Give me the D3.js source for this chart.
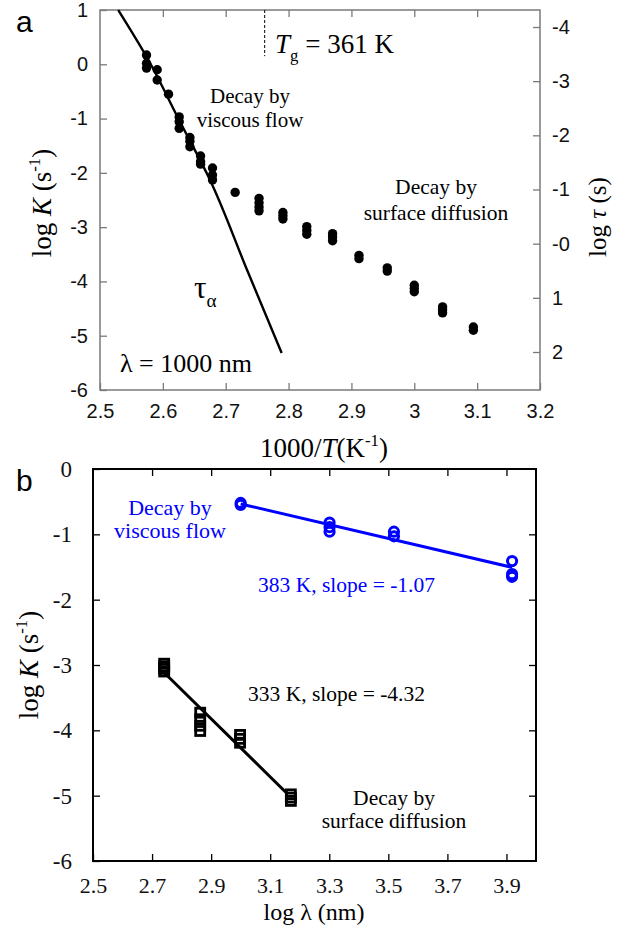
<!DOCTYPE html>
<html>
<head>
<meta charset="utf-8">
<script src="https://cdn.jsdelivr.net/npm/d3@7"></script>
<style>
  body { margin: 0; background: #fff; }
  svg { display: block; }
</style>
</head>
<body>
<div id="chart"></div>
<script>
// ---- panel a : log K vs 1000/T (lambda = 1000 nm) ----
var invT = [2.574, 2.591, 2.609, 2.626, 2.643, 2.660, 2.679, 2.715, 2.753, 2.791,
            2.829, 2.870, 2.912, 2.957, 3.000, 3.045, 3.094];
var logKa = [[0.17, 0.02, -0.07], [-0.10, -0.29], [-0.55], [-0.97, -1.06, -1.18],
             [-1.35, -1.42, -1.52], [-1.69, -1.79, -1.84], [-1.91, -2.04, -2.13], [-2.36],
             [-2.47, -2.55, -2.63, -2.70], [-2.73, -2.79, -2.85], [-2.99, -3.06, -3.13],
             [-3.12, -3.18, -3.25], [-3.52, -3.58], [-3.75, -3.81], [-4.07, -4.13, -4.19],
             [-4.47, -4.52, -4.58], [-4.84, -4.90]];
// tau_alpha curve
var tauX = [2.529, 2.575, 2.626, 2.675, 2.734, 2.789];
var tauLogK = [1.0, 0.12, -1.03, -2.13, -3.79, -5.32];
var tgInvT = 2.762;
var xTicksA = [2.5, 2.6, 2.7, 2.8, 2.9, 3.0, 3.1, 3.2];
var yTicksA = [1, 0, -1, -2, -3, -4, -5, -6];
var tauTicks = [-4, -3, -2, -1, 0, 1, 2];

// ---- panel b : log K vs log lambda ----
var lam383 = [3.000, 3.301, 3.519, 3.919];
var logK383 = [[-0.52, -0.55], [-0.82, -0.89, -0.96], [-0.96, -1.03], [-1.41, -1.61, -1.65]];
var fit383X = [3.000, 3.919];
var fit383Y = [-0.535, -1.505];
var lam333 = [2.741, 2.863, 2.998, 3.170];
var logK333 = [[-2.98, -3.02, -3.06, -3.10], [-3.73, -3.83, -3.93, -4.01],
               [-4.07, -4.13, -4.19], [-4.98, -5.03, -5.08]];
var fit333X = [2.744, 3.158];
var fit333Y = [-3.13, -4.97];
var xTicksB = [2.5, 2.7, 2.9, 3.1, 3.3, 3.5, 3.7, 3.9];
var yTicksB = [0, -1, -2, -3, -4, -5, -6];

var width = 634, height = 934;
var sans = '"Liberation Sans", Arial, sans-serif';
var serif = '"Liberation Serif", "Times New Roman", serif';
var blue = '#0000ff';

var svg = d3.select('#chart').append('svg')
  .attr('width', width)
  .attr('height', height);

function fmt(d) { return String(d); }

// rich text: parts = [[text, style]] ; style: i italic, sup, sub
function richText(g, x, y, parts, opts) {
  var t = g.append('text')
    .attr('x', x).attr('y', y)
    .attr('font-family', opts.font)
    .attr('font-size', opts.size)
    .attr('fill', opts.color || '#000')
    .attr('text-anchor', opts.anchor || 'start');
  var shift = 0;
  parts.forEach(function(p) {
    var s = t.append('tspan').text(p[0]);
    var st = p[1] || '';
    if (st.indexOf('i') >= 0) s.attr('font-style', 'italic');
    var want = 0;
    if (st.indexOf('sup') >= 0) want = -0.42 * opts.size;
    if (st.indexOf('sub') >= 0) want = 0.28 * opts.size;
    if (st.indexOf('sup') >= 0 || st.indexOf('sub') >= 0) s.attr('font-size', opts.size * 0.62);
    if (want !== shift) { s.attr('dy', want - shift); shift = want; }
  });
  return t;
}

// ================= panel a =================
var xA = d3.scaleLinear().domain([2.5, 3.2]).range([100, 540]);
var yA = d3.scaleLinear().domain([-6, 1]).range([390, 10]);
var yTau = d3.scaleLinear().domain([-4, 2]).range([27, 352]);
var ga = svg.append('g');
var frameA = '#7a7a7a';

function styleAxis(sel, col, font, size) {
  sel.attr('font-family', font);
  sel.select('.domain').remove();
  sel.selectAll('line').attr('stroke', col).attr('stroke-width', 1.3);
  sel.selectAll('text').attr('font-family', font).attr('font-size', size).attr('fill', '#111');
}

ga.append('g').attr('transform', 'translate(100,0)')
  .call(d3.axisLeft(yA).tickValues(yTicksA).tickFormat(fmt).tickSizeInner(-7).tickSizeOuter(0).tickPadding(12))
  .call(styleAxis, frameA, sans, 20);
ga.append('g').attr('transform', 'translate(0,390)')
  .call(d3.axisBottom(xA).tickValues(xTicksA).tickFormat(fmt).tickSizeInner(-7).tickSizeOuter(0).tickPadding(14))
  .call(styleAxis, frameA, sans, 20);
ga.append('g').attr('transform', 'translate(0,10)')
  .call(d3.axisTop(xA).tickValues(xTicksA.slice(1, -1)).tickFormat('').tickSizeInner(-7).tickSizeOuter(0))
  .call(styleAxis, frameA, sans, 20);
ga.append('g').attr('transform', 'translate(540,0)')
  .call(d3.axisRight(yTau).tickValues(tauTicks).tickFormat(function(d) { return d === 0 ? '-0' : String(d); })
    .tickSizeInner(-7).tickSizeOuter(0).tickPadding(12))
  .call(styleAxis, frameA, sans, 20);

ga.append('rect')
  .attr('x', xA(2.5)).attr('y', yA(1))
  .attr('width', xA(3.2) - xA(2.5)).attr('height', yA(-6) - yA(1))
  .attr('fill', 'none').attr('stroke', frameA).attr('stroke-width', 1.5);

// Tg marker
ga.append('line')
  .attr('x1', xA(tgInvT)).attr('x2', xA(tgInvT))
  .attr('y1', yA(1)).attr('y2', yA(0.15))
  .attr('stroke', '#000').attr('stroke-width', 1).attr('stroke-dasharray', '3,2');

// tau_alpha curve
ga.append('path')
  .datum(d3.zip(tauX, tauLogK))
  .attr('d', d3.line().x(function(d) { return xA(d[0]); }).y(function(d) { return yA(d[1]); })
    .curve(d3.curveMonotoneY))
  .attr('fill', 'none').attr('stroke', '#000').attr('stroke-width', 2.4);

// points
var ptsA = [];
invT.forEach(function(x, i) { logKa[i].forEach(function(v) { ptsA.push([x, v]); }); });
ga.selectAll('circle.pa').data(ptsA).enter().append('circle')
  .attr('class', 'pa')
  .attr('cx', function(d) { return xA(d[0]); })
  .attr('cy', function(d) { return yA(d[1]); })
  .attr('r', 4.7).attr('fill', '#000');

// labels panel a
svg.append('text').attr('x', 16).attr('y', 32).attr('font-family', sans).attr('font-size', 30).text('a');
richText(ga, 275, 53, [['T', 'i'], ['g', 'sub'], [' = 361 K']], { font: serif, size: 27 });
richText(ga, 250, 103, [['Decay by']], { font: serif, size: 21, anchor: 'middle' });
richText(ga, 250, 127, [['viscous flow']], { font: serif, size: 21, anchor: 'middle' });
richText(ga, 436, 194, [['Decay by']], { font: serif, size: 21.5, anchor: 'middle' });
richText(ga, 436, 220, [['surface diffusion']], { font: serif, size: 21.5, anchor: 'middle' });
richText(ga, 194, 298, [['\u03c4'], ['\u03b1', 'sub']], { font: serif, size: 31 });
richText(ga, 120, 372, [['\u03bb = 1000 nm']], { font: serif, size: 26 });
richText(ga, 324, 457, [['1000/'], ['T', 'i'], ['(K'], ['-1', 'sup'], [')']], { font: serif, size: 27, anchor: 'middle' });
richText(ga.append('g').attr('transform', 'translate(51,203) rotate(-90)'), 0, 0,
  [['log '], ['K', 'i'], [' (s'], ['-1', 'sup'], [')']], { font: serif, size: 27, anchor: 'middle' });
richText(ga.append('g').attr('transform', 'translate(606,217) rotate(-90)'), 0, 0,
  [['log '], ['\u03c4', 'i'], [' (s)']], { font: serif, size: 25, anchor: 'middle' });

// ================= panel b =================
var xB = d3.scaleLinear().domain([2.5, 4.0]).range([93, 536]);
var yB = d3.scaleLinear().domain([-6, 0]).range([861, 469]);
var gb = svg.append('g');

gb.append('g').attr('transform', 'translate(93,0)')
  .call(d3.axisLeft(yB).tickValues(yTicksB).tickFormat(fmt).tickSizeInner(-7).tickSizeOuter(0).tickPadding(21))
  .call(styleAxis, '#000', serif, 23);
gb.append('g').attr('transform', 'translate(0,861)')
  .call(d3.axisBottom(xB).tickValues(xTicksB).tickFormat(fmt).tickSizeInner(-7).tickSizeOuter(0).tickPadding(16))
  .call(styleAxis, '#000', serif, 22);
gb.append('g').attr('transform', 'translate(0,469)')
  .call(d3.axisTop(xB).tickValues(xTicksB.slice(1)).tickFormat('').tickSizeInner(-7).tickSizeOuter(0))
  .call(styleAxis, '#000', serif, 23);
gb.append('g').attr('transform', 'translate(536,0)')
  .call(d3.axisRight(yB).tickValues(yTicksB.slice(1, -1)).tickFormat('').tickSizeInner(-7).tickSizeOuter(0))
  .call(styleAxis, '#000', serif, 23);

gb.append('rect')
  .attr('x', xB(2.5)).attr('y', yB(0))
  .attr('width', xB(4.0) - xB(2.5)).attr('height', yB(-6) - yB(0))
  .attr('fill', 'none').attr('stroke', '#000').attr('stroke-width', 2);

var lineB = d3.line().x(function(d) { return xB(d[0]); }).y(function(d) { return yB(d[1]); });

// 383 K series (blue)
gb.append('path').datum(d3.zip(fit383X, fit383Y)).attr('d', lineB)
  .attr('fill', 'none').attr('stroke', blue).attr('stroke-width', 3);
var pts383 = [];
lam383.forEach(function(x, i) { logK383[i].forEach(function(v) { pts383.push([x, v]); }); });
gb.selectAll('circle.b383').data(pts383).enter().append('circle')
  .attr('class', 'b383')
  .attr('cx', function(d) { return xB(d[0]); })
  .attr('cy', function(d) { return yB(d[1]); })
  .attr('r', 4.6).attr('fill', 'none').attr('stroke', blue).attr('stroke-width', 3);

// 333 K series (black)
gb.append('path').datum(d3.zip(fit333X, fit333Y)).attr('d', lineB)
  .attr('fill', 'none').attr('stroke', '#000').attr('stroke-width', 3);
var pts333 = [];
lam333.forEach(function(x, i) { logK333[i].forEach(function(v) { pts333.push([x, v]); }); });
gb.selectAll('rect.b333').data(pts333).enter().append('rect')
  .attr('class', 'b333')
  .attr('x', function(d) { return xB(d[0]) - 4.5; })
  .attr('y', function(d) { return yB(d[1]) - 4.5; })
  .attr('width', 9).attr('height', 9)
  .attr('fill', 'none').attr('stroke', '#000').attr('stroke-width', 2.8);

// labels panel b
svg.append('text').attr('x', 16).attr('y', 491).attr('font-family', sans).attr('font-size', 30).text('b');
richText(gb, 170, 515, [['Decay by']], { font: serif, size: 22, anchor: 'middle', color: blue });
richText(gb, 170, 538, [['viscous flow']], { font: serif, size: 22, anchor: 'middle', color: blue });
richText(gb, 258, 592, [['383 K, slope = -1.07']], { font: serif, size: 21.5, color: blue });
richText(gb, 248, 701, [['333 K, slope = -4.32']], { font: serif, size: 21.5 });
richText(gb, 394, 805, [['Decay by']], { font: serif, size: 21.5, anchor: 'middle' });
richText(gb, 394, 828, [['surface diffusion']], { font: serif, size: 21.5, anchor: 'middle' });
richText(gb, 314, 920, [['log \u03bb (nm)']], { font: serif, size: 24, anchor: 'middle' });
richText(gb.append('g').attr('transform', 'translate(38,665) rotate(-90)'), 0, 0,
  [['log '], ['K', 'i'], [' (s'], ['-1', 'sup'], [')']], { font: serif, size: 27, anchor: 'middle' });
</script>
</body>
</html>
